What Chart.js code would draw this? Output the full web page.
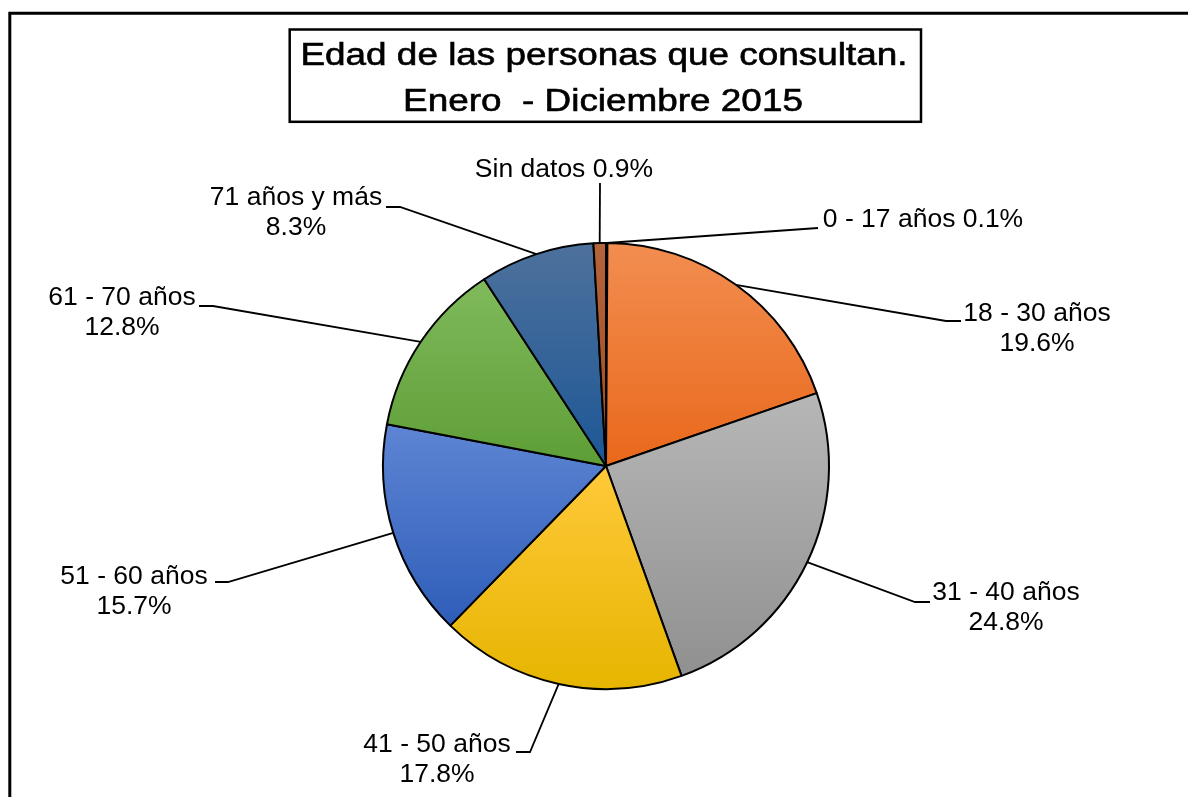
<!DOCTYPE html>
<html>
<head>
<meta charset="utf-8">
<script src="https://cdn.jsdelivr.net/npm/chart.js@4.4.1/dist/chart.umd.min.js"></script>
<style>
  html, body { margin: 0; padding: 0; background: #fff; }
  #wrap { width: 1188px; height: 797px; position: relative; }
</style>
</head>
<body>
<div id="wrap"><canvas id="c" width="1188" height="797"></canvas></div>
<script>
// ---- data ----
const categories = ["0 - 17 años", "18 - 30 años", "31 - 40 años", "41 - 50 años",
                    "51 - 60 años", "61 - 70 años", "71 años y más", "Sin datos"];
const percentages = [0.1, 19.6, 24.8, 17.8, 15.7, 12.8, 8.3, 0.9];
const titleLines = ["Edad de las personas que consultan.", "Enero  - Diciembre 2015"];

// ---- styles ----
const gradientTop = ["#5B80C8", "#F28E51", "#B7B7B7", "#FFC93A", "#5E85D4", "#80BA5C", "#4E719C", "#B5633B"];
const gradientBottom = ["#3462B8", "#E9681B", "#909090", "#E6B500", "#2E5DB8", "#5E9E36", "#1D5796", "#A04C20"];
const FONT = "'Liberation Sans', Arial, sans-serif";

// label layout: [centerX, firstLineY, twoLines, leader bend points]
const labelLayout = [
  [923, 220, false, [[818, 228]]],
  [1037, 314, true, [[946, 321], [961, 321]]],
  [1006, 593, true, [[915, 602], [930, 602]]],
  [437, 745, true, [[530, 752], [516, 752]]],
  [134, 577, true, [[228, 582], [215, 582]]],
  [122, 298, true, [[213, 306], [199, 306]]],
  [296, 198, true, [[400, 207], [386, 207]]],
  [564, 170, false, [[600, 183]]]
];

function sliceGradient(ctx) {
  const chart = ctx.chart;
  const i = ctx.dataIndex;
  const area = chart.chartArea;
  if (!area || i === undefined) return gradientBottom[i] || '#888';
  const cx = (area.left + area.right) / 2;
  const cy = (area.top + area.bottom) / 2;
  const r = Math.min(area.right - area.left, area.bottom - area.top) / 2;
  const total = percentages.reduce((a, b) => a + b, 0);
  let before = 0;
  for (let k = 0; k < i; k++) before += percentages[k];
  const a0 = -Math.PI / 2 + 2 * Math.PI * before / total;
  const a1 = a0 + 2 * Math.PI * percentages[i] / total;
  const ys = [cy, cy + r * Math.sin(a0), cy + r * Math.sin(a1)];
  const inRange = (t) => {
    for (let m = -2; m <= 2; m++) { const v = t + m * 2 * Math.PI; if (v >= a0 && v <= a1) return true; }
    return false;
  };
  if (inRange(Math.PI / 2)) ys.push(cy + r);
  if (inRange(-Math.PI / 2)) ys.push(cy - r);
  let y0 = Math.min(...ys), y1 = Math.max(...ys);
  if (y1 - y0 < 1) y1 = y0 + 1;
  const g = chart.ctx.createLinearGradient(0, y0, 0, y1);
  g.addColorStop(0, gradientTop[i]);
  g.addColorStop(1, gradientBottom[i]);
  return g;
}

function stretchedText(ctx, text, x, y, sx, strokeW) {
  ctx.save();
  ctx.translate(x, y);
  ctx.scale(sx, 1);
  ctx.fillText(text, 0, 0);
  if (strokeW) {
    ctx.lineWidth = strokeW;
    ctx.strokeStyle = '#000';
    ctx.strokeText(text, 0, 0);
  }
  ctx.restore();
}

const decorPlugin = {
  id: 'decor',
  afterDraw(chart) {
    const ctx = chart.ctx;
    ctx.save();
    // outer frame
    ctx.strokeStyle = '#000';
    ctx.lineWidth = 3;
    ctx.beginPath();
    ctx.moveTo(9.8, 820);
    ctx.lineTo(9.8, 13.2);
    ctx.lineTo(1200, 13.2);
    ctx.stroke();
    // title box
    ctx.lineWidth = 2.5;
    ctx.strokeRect(289.7, 29.5, 631.3, 92.3);
    ctx.fillStyle = '#000';
    ctx.textAlign = 'center';
    ctx.textBaseline = 'alphabetic';
    ctx.font = '31px ' + FONT;
    stretchedText(ctx, titleLines[0], 604, 65, 1.19, 0.6);
    stretchedText(ctx, titleLines[1], 603, 110.5, 1.19, 0.6);

    // labels and leader lines
    const meta = chart.getDatasetMeta(0);
    ctx.font = '25px ' + FONT;
    ctx.textBaseline = 'middle';
    meta.data.forEach((arc, i) => {
      const lay = labelLayout[i];
      const mid = (arc.startAngle + arc.endAngle) / 2;
      const sx = arc.x + Math.cos(mid) * arc.outerRadius;
      const sy = arc.y + Math.sin(mid) * arc.outerRadius;
      ctx.lineWidth = 1.8;
      ctx.beginPath();
      ctx.moveTo(sx, sy);
      lay[3].forEach(p => ctx.lineTo(p[0], p[1]));
      ctx.stroke();
      const pct = percentages[i].toFixed(1) + '%';
      if (lay[2]) {
        stretchedText(ctx, categories[i], lay[0], lay[1], 1.06);
        stretchedText(ctx, pct, lay[0], lay[1] + 30, 1.06);
      } else {
        stretchedText(ctx, categories[i] + ' ' + pct, lay[0], lay[1], 1.06);
      }
    });
    ctx.restore();
  }
};

new Chart(document.getElementById('c'), {
  type: 'pie',
  data: {
    labels: categories,
    datasets: [{
      data: percentages,
      backgroundColor: sliceGradient,
      borderColor: '#000',
      borderWidth: 2,
      hoverOffset: 0,
      offset: 0
    }]
  },
  options: {
    responsive: false,
    animation: false,
    events: [],
    layout: { padding: { left: 382, right: 358, top: 242, bottom: 107 } },
    plugins: {
      legend: { display: false },
      title: { display: false },
      tooltip: { enabled: false }
    }
  },
  plugins: [decorPlugin]
});
</script>
</body>
</html>
